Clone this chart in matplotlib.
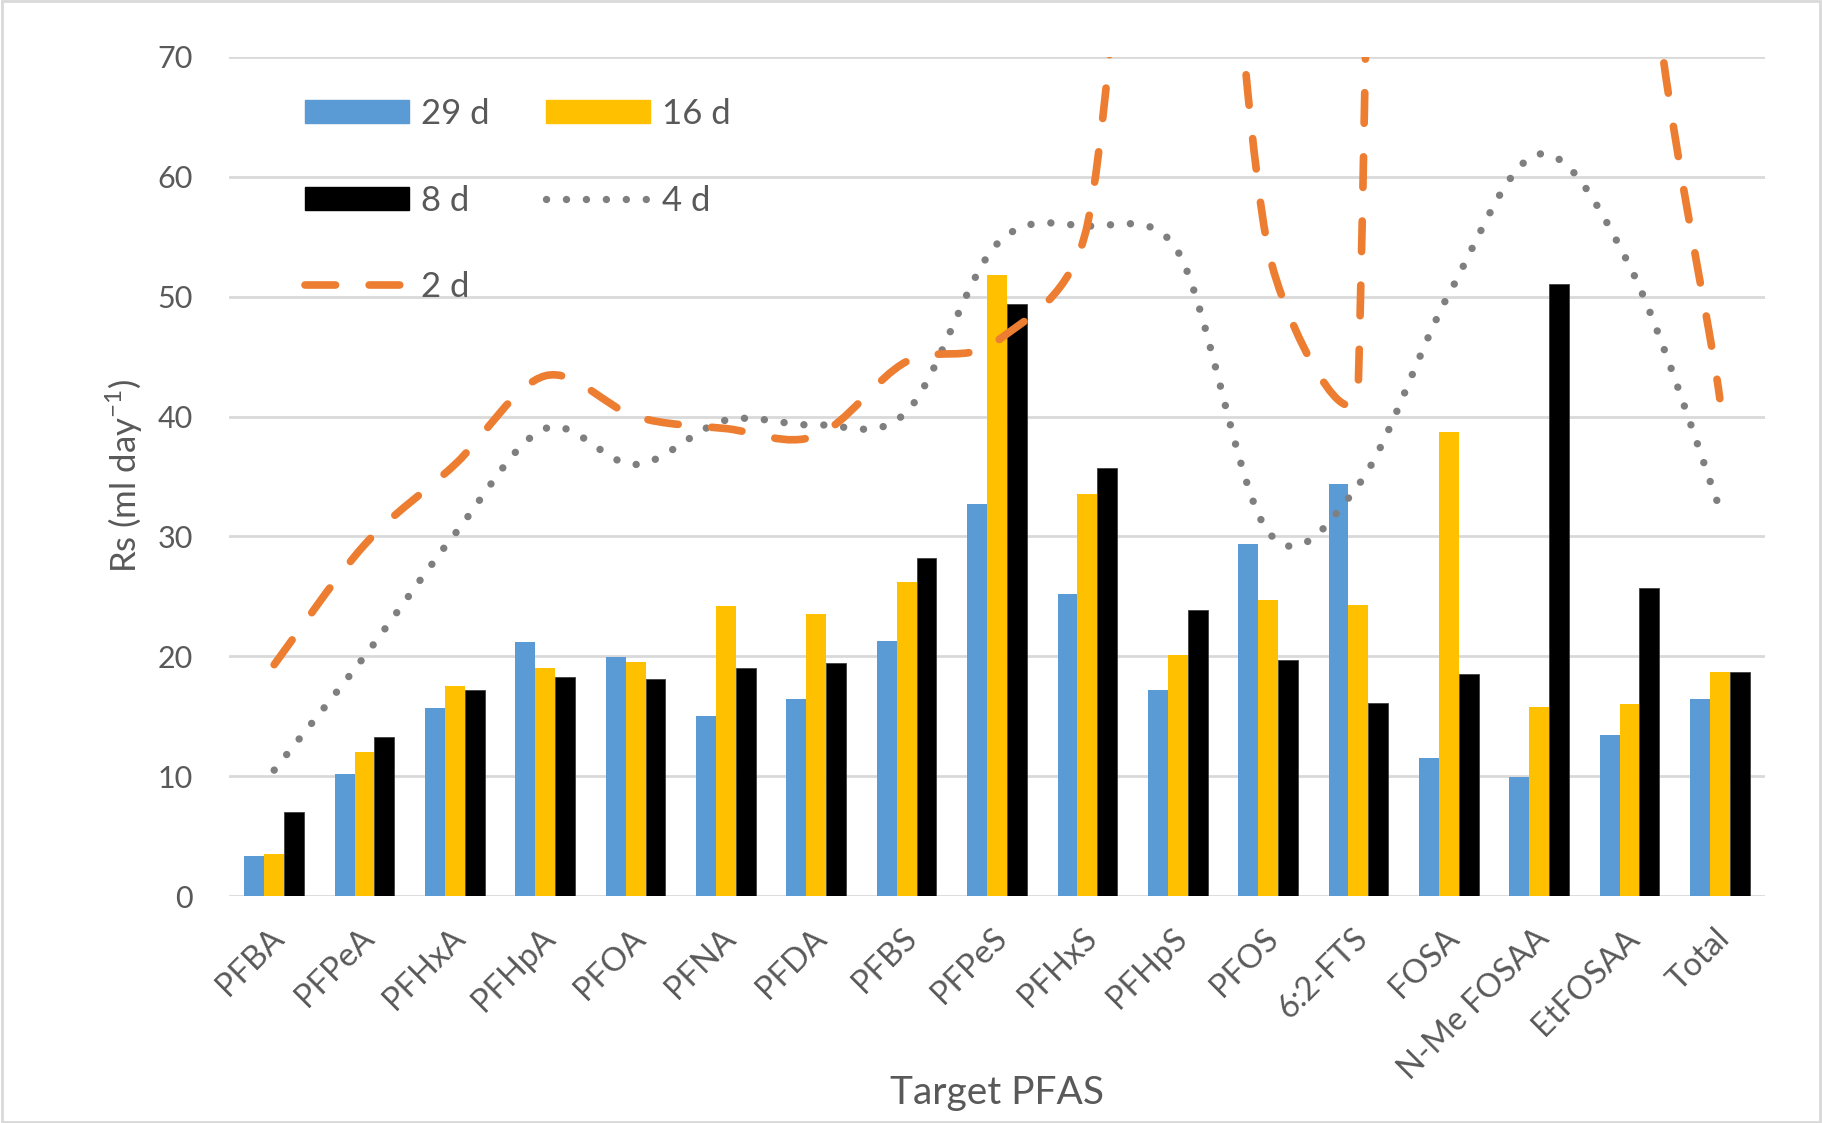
import numpy as np
import matplotlib
matplotlib.use("Agg")
import matplotlib.pyplot as plt
from matplotlib.path import Path
from matplotlib.patches import PathPatch, Patch, Rectangle
from matplotlib.lines import Line2D
from matplotlib.transforms import ScaledTranslation

plt.rcParams['font.family'] = ['Lato', 'DejaVu Sans']

categories = ['PFBA', 'PFPeA', 'PFHxA', 'PFHpA', 'PFOA', 'PFNA', 'PFDA', 'PFBS',
              'PFPeS', 'PFHxS', 'PFHpS', 'PFOS', '6:2-FTS', 'FOSA', 'N-Me FOSAA',
              'EtFOSAA', 'Total']
rs_29d = [3.3, 10.2, 15.7, 21.2, 19.9, 15.0, 16.4, 21.3, 32.7, 25.2, 17.2, 29.4, 34.4, 11.5, 9.9, 13.4, 16.4]
rs_16d = [3.5, 12.0, 17.5, 19.0, 19.5, 24.2, 23.5, 26.2, 51.8, 33.5, 20.1, 24.7, 24.3, 38.7, 15.8, 16.0, 18.7]
rs_8d = [7.0, 13.3, 17.2, 18.3, 18.1, 19.0, 19.4, 28.2, 49.4, 35.7, 23.9, 19.7, 16.1, 18.5, 51.1, 25.7, 18.7]
rs_4d = [10.5, 20.0, 30.2, 39.0, 36.0, 39.7, 39.3, 40.4, 54.4, 55.9, 53.8, 30.4, 34.3, 50.2, 61.9, 52.6, 32.3]
# values above 70 run off the top of the chart
rs_2d = [19.3, 29.3, 36.0, 43.4, 40.0, 39.0, 38.4, 44.6, 46.3, 56.0, 117.0, 54.0, 43.0, 600.0, 300.0, 98.0, 41.5]

W, H = 1822, 1123
fig = plt.figure(figsize=(W / 100, H / 100), dpi=100)
ax_l, ax_b, ax_w, ax_h = 229 / W, 1 - 896 / H, 1536 / W, 839 / H
ax = fig.add_axes([ax_l, ax_b, ax_w, ax_h])

n = len(categories)
x = np.arange(n)
bw = 0.22
ax.bar(x - bw, rs_29d, bw, color='#5B9BD5', zorder=2)
ax.bar(x, rs_16d, bw, color='#FFC000', zorder=2)
ax.bar(x + bw, rs_8d, bw, color='black', edgecolor='#404040', linewidth=0.6, zorder=2)


def smooth_path(xs, ys, sx, sy):
    # Excel style smoothed line: cubic bezier through the points
    P = np.column_stack([np.asarray(xs, float) * sx, np.asarray(ys, float) * sy])
    m = len(P)
    verts = [P[0]]
    codes = [Path.MOVETO]
    for i in range(m - 1):
        p0 = P[i - 1] if i > 0 else P[i]
        p1, p2 = P[i], P[i + 1]
        p3 = P[i + 2] if i + 2 < m else P[i + 1]
        d12 = np.hypot(*(p2 - p1))
        t1, t2 = p2 - p0, p3 - p1
        l1, l2 = np.hypot(*t1), np.hypot(*t2)
        f1 = min(1 / 6, d12 / (2 * l1)) if l1 > 0 else 0
        f2 = min(1 / 6, d12 / (2 * l2)) if l2 > 0 else 0
        verts += [p1 + f1 * t1, p2 - f2 * t2, p2]
        codes += [Path.CURVE4] * 3
    V = np.array(verts) / [sx, sy]
    return Path(V, codes)


ax.set_xlim(-0.5, n - 0.5)
ax.set_ylim(0, 70)
sx = ax_w * W / n
sy = ax_h * H / 70

dot_style = dict(color='#7F7F7F', lw=5.3, ls=(0, (0.01, 2.7)))
dash_style = dict(color='#ED7D31', lw=5.5, ls=(0, (4.0, 4.4)))

p4 = PathPatch(smooth_path(x, rs_4d, sx, sy), fill=False, edgecolor=dot_style['color'],
               lw=dot_style['lw'], linestyle=dot_style['ls'], capstyle='round', zorder=3)
p2 = PathPatch(smooth_path(x, rs_2d, sx, sy), fill=False, edgecolor=dash_style['color'],
               lw=dash_style['lw'], linestyle=dash_style['ls'], capstyle='round', zorder=4)
ax.add_patch(p4)
ax.add_patch(p2)

ax.set_yticks(range(0, 71, 10))
ax.yaxis.grid(True, color='#D9D9D9', lw=2)
ax.set_axisbelow(True)
for s in ax.spines.values():
    s.set_visible(False)
ax.tick_params(length=0, labelsize=22, labelcolor='#595959')
ax.tick_params(axis='y', pad=26)
ax.set_xticks(x)
ax.set_xticklabels(categories, rotation=45, ha='right', va='center', rotation_mode='anchor',
                   fontsize=23.5)
ax.tick_params(axis='x', pad=27)
shift = ScaledTranslation(5 / 100, 0, fig.dpi_scale_trans)
for lbl in ax.get_xticklabels():
    lbl.set_transform(lbl.get_transform() + shift)

fig.text(124 / W, 1 - 476 / H, r'Rs (ml day$^{\mathregular{-1}}$)', rotation=90,
         ha='center', va='center', fontsize=25, color='#595959')
fig.text(997 / W, 1 - 1093 / H, 'Target PFAS', ha='center', va='center',
         fontsize=28, color='#595959')

handles = [Patch(color='#5B9BD5'), Patch(color='black'),
           Line2D([], [], color=dash_style['color'], lw=dash_style['lw'], ls=dash_style['ls'],
                  dash_capstyle='round'),
           Patch(color='#FFC000'),
           Line2D([], [], color=dot_style['color'], lw=dot_style['lw'], ls=dot_style['ls'],
                  dash_capstyle='round')]
labels = ['29 d', '8 d', '2 d', '16 d', '4 d']
fig.legend(handles, labels, ncol=2, loc='upper left', bbox_to_anchor=(305 / W, 1 - 98 / H),
           frameon=False, fontsize=25, labelcolor='#595959', handlelength=3.0,
           handleheight=0.65, handletextpad=0.35, labelspacing=1.57, columnspacing=1.6,
           borderpad=0, borderaxespad=0)

fig.patches.append(Rectangle((0.001, 0.001), 0.998, 0.998, transform=fig.transFigure,
                             fill=False, ec='#D9D9D9', lw=2))

fig.savefig('out.png', dpi=100)
